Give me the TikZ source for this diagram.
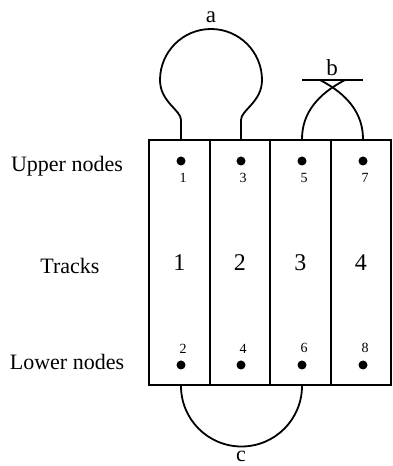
\documentclass[tikz,border=0pt]{standalone}
\usepackage{fontspec}
\setmainfont{Liberation Serif}
\begin{document}
\begin{tikzpicture}[x=1pt,y=1pt,
	track/.style={draw,line width=2pt,minimum width=60.5pt,minimum height=245pt,inner sep=0pt,font=\fontsize{24}{28}\selectfont},
	dot/.style={circle,fill,minimum size=9pt,inner sep=0pt},
	num/.style={font=\fontsize{14}{16}\selectfont,inner sep=0pt,xshift=2pt},
	side/.style={font=\fontsize{22}{26}\selectfont,anchor=center},
	wire/.style={line width=1.8pt},
	tag/.style={font=\fontsize{23}{26}\selectfont,inner sep=0pt}]
	\useasboundingbox (0,0) rectangle (392,466);

	% tracks
	\node[track] (track1) at (179.25,203.5) {1};
	\node[track] (track2) at (239.75,203.5) {2};
	\node[track] (track3) at (300.25,203.5) {3};
	\node[track] (track4) at (360.75,203.5) {4};

	% upper and lower nodes
	\node[dot,label={[num,label distance=7pt]below:1}] (u1) at (181,305) {};
	\node[dot,label={[num,label distance=7pt]below:3}] (u2) at (241,305) {};
	\node[dot,label={[num,label distance=7pt]below:5}] (u3) at (302,305) {};
	\node[dot,label={[num,label distance=7pt]below:7}] (u4) at (363,305) {};
	\node[dot,label={[num,label distance=7pt]above:2}] (l1) at (181,101) {};
	\node[dot,label={[num,label distance=7pt]above:4}] (l2) at (241,101) {};
	\node[dot,label={[num,label distance=7pt]above:6}] (l3) at (302,101) {};
	\node[dot,label={[num,label distance=7pt]above:8}] (l4) at (363,101) {};

	\node[side] (upper) at (67,300) {Upper nodes};
	\node[side] (tracks) at (70,200) {Tracks};
	\node[side] (lower) at (67,104) {Lower nodes};

	% ends of the loops on the box
	\coordinate (a1) at (u1 |- track1.north);
	\coordinate (a2) at (u2 |- track2.north);
	\coordinate (b1) at (u3 |- track3.north);
	\coordinate (b2) at (u4 |- track4.north);
	\coordinate (c1) at (l1 |- track1.south);
	\coordinate (c2) at (l3 |- track3.south);

	% loop a
	\draw[wire] (a1) -- (181,346) .. controls (181,356) and (160,364) .. (160,386)
		arc[start angle=180,end angle=0,radius=51]
		.. controls (262,364) and (241,356) .. (241,346) -- (a2);
	\node[tag] (a) at (211,449) {a};

	% loop b
	\draw[wire] (b1) .. controls +(0,26) and (318,372) .. (345,386);
	\draw[wire] (b2) .. controls +(0,26) and (347,372) .. (320,386);
	\draw[wire] (b1 |- 0,386) -- (b2 |- 0,386);
	\node[tag] (b) at (332,398) {b};

	% loop c
	\draw[wire] (c1) arc[start angle=180,end angle=360,radius=60.5];
	\node[tag,font=\fontsize{22}{26}\selectfont] (c) at (241,10) {c};
\end{tikzpicture}
\end{document}
